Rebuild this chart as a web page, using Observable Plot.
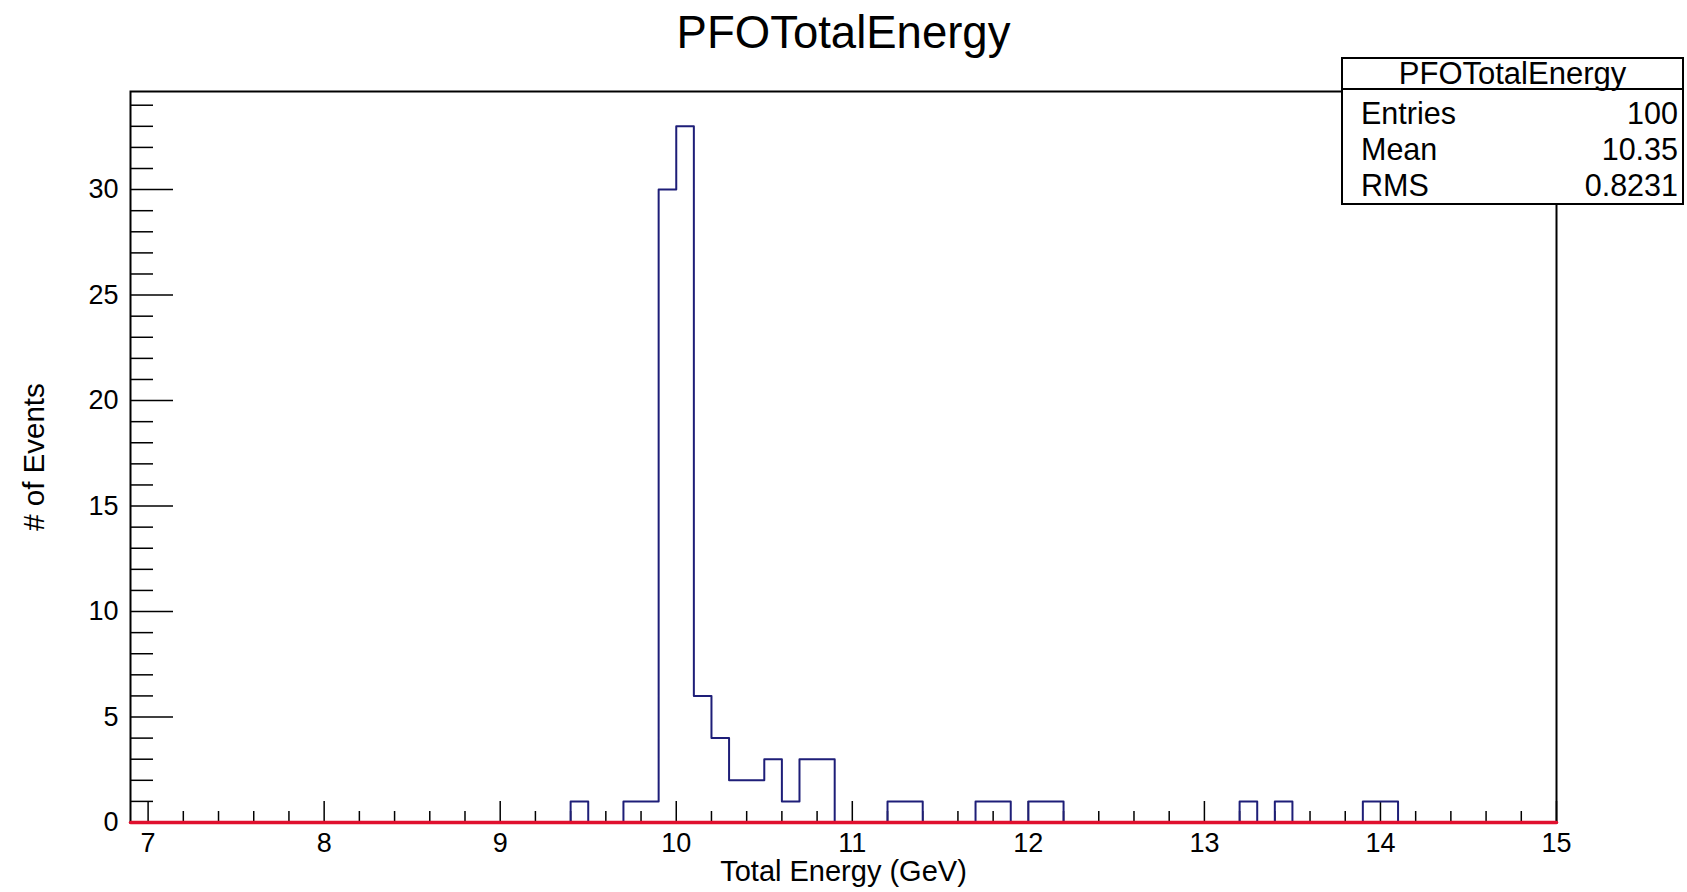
<!DOCTYPE html>
<html>
<head>
<meta charset="utf-8">
<script src="https://cdn.jsdelivr.net/npm/d3@7"></script>
<script src="https://cdn.jsdelivr.net/npm/@observablehq/plot@0.6"></script>
<style>
  html, body { margin: 0; padding: 0; background: #fff; }
  #wrap { position: relative; width: 1687px; height: 892px; font-family: "Liberation Sans", Arial, sans-serif; }
  #stats { position: absolute; left: 1341px; top: 57px; width: 343px; height: 148px; border: 2px solid #000; box-sizing: border-box; background: #fff; color: #000; font-size: 30.5px; }
  #stats .hd { height: 29px; line-height: 29px; text-align: center; border-bottom: 2px solid #000; font-size: 31px; }
  #stats .rows { padding-top: 5px; }
  #stats .row { display: flex; justify-content: space-between; height: 36px; line-height: 36px; padding: 0 4px 0 18px; }
</style>
</head>
<body>
<div id="wrap"></div>
<script>
// Histogram: low edges of non-empty bins (bin width 0.1 GeV) and their counts
const binWidth = 0.1;
const xMin = 6.9, xMax = 15;
const binLow   = [9.4, 9.7, 9.8, 9.9, 10.0, 10.1, 10.2, 10.3, 10.4, 10.5, 10.6, 10.7, 10.8, 11.2, 11.3, 11.7, 11.8, 12.0, 12.1, 13.2, 13.4, 13.9, 14.0];
const binCount = [1,   1,   1,   30,  33,   6,    4,    2,    2,    3,    1,    3,    3,    1,    1,    1,    1,    1,    1,    1,    1,    1,    1];

const xMajor = [7, 8, 9, 10, 11, 12, 13, 14, 15];
const xMinor = d3.range(70, 151, 2).map(v => v / 10).filter(v => !xMajor.includes(v));
const yMajor = [0, 5, 10, 15, 20, 25, 30];
const yMinor = d3.range(0, 35).filter(v => !yMajor.includes(v));

const fitX = [xMin, xMax];
const fitY = [0, 0];

const statsTitle = "PFOTotalEnergy";
const statsLabels = ["Entries", "Mean", "RMS"];
const statsValues = ["100", "10.35", "0.8231"];

// Build the step outline across all bins (empty bins at 0)
const nBins = Math.round((xMax - xMin) / binWidth);
const counts = new Array(nBins).fill(0);
binLow.forEach((lo, i) => { counts[Math.round((lo - xMin) / binWidth)] = binCount[i]; });
const steps = counts.map((c, i) => ({x: xMin + i * binWidth, y: c}));
steps.push({x: xMax, y: 0});
const fit = fitX.map((x, i) => ({x, y: fitY[i]}));

const font = "Liberation Sans, Arial, sans-serif";
const noText = () => "";

const chart = Plot.plot({
  width: 1687,
  height: 892,
  marginLeft: 130,
  marginRight: 131,
  marginTop: 91,
  marginBottom: 70,
  style: {fontFamily: font, background: "#fff", color: "#000", overflow: "visible"},
  x: {domain: [xMin, xMax], label: null},
  y: {domain: [0, 34.65], label: null},
  marks: [
    Plot.frame({stroke: "#000", strokeWidth: 2}),
    Plot.axisX({ticks: xMinor, tickSize: -11, tickFormat: noText, label: null, strokeWidth: 1.5}),
    Plot.axisX({ticks: xMajor, tickSize: -21, tickFormat: noText, label: null, strokeWidth: 1.5}),
    Plot.axisX({ticks: xMajor, tickSize: 0, tickPadding: 10, fontSize: 27, label: null}),
    Plot.axisY({ticks: yMinor, tickSize: -23, tickFormat: noText, label: null, strokeWidth: 1.5}),
    Plot.axisY({ticks: yMajor, tickSize: -43, tickFormat: noText, label: null, strokeWidth: 1.5}),
    Plot.axisY({ticks: yMajor, tickSize: 0, tickPadding: 12, fontSize: 27, label: null}),
    Plot.line(steps, {x: "x", y: "y", curve: "step-after", stroke: "#1e1e78", strokeWidth: 2}),
    Plot.line(fit, {x: "x", y: "y", stroke: "#e0102e", strokeWidth: 3.5}),
    Plot.text(["PFOTotalEnergy"], {frameAnchor: "top", dy: -58, fontSize: 45.5, lineAnchor: "middle", fill: "#000"}),
    Plot.text(["Total Energy (GeV)"], {frameAnchor: "bottom", dy: 49, fontSize: 29, lineAnchor: "middle", fill: "#000"}),
    Plot.text(["# of Events"], {frameAnchor: "left", dx: -96, rotate: -90, fontSize: 29.5, textAnchor: "middle", lineAnchor: "middle", fill: "#000"})
  ]
});

const wrap = document.getElementById("wrap");
wrap.appendChild(chart);

const stats = document.createElement("div");
stats.id = "stats";
let html = `<div class="hd">${statsTitle}</div><div class="rows">`;
statsLabels.forEach((l, i) => { html += `<div class="row"><span>${l}</span><span>${statsValues[i]}</span></div>`; });
html += `</div>`;
stats.innerHTML = html;
wrap.appendChild(stats);
</script>
</body>
</html>
